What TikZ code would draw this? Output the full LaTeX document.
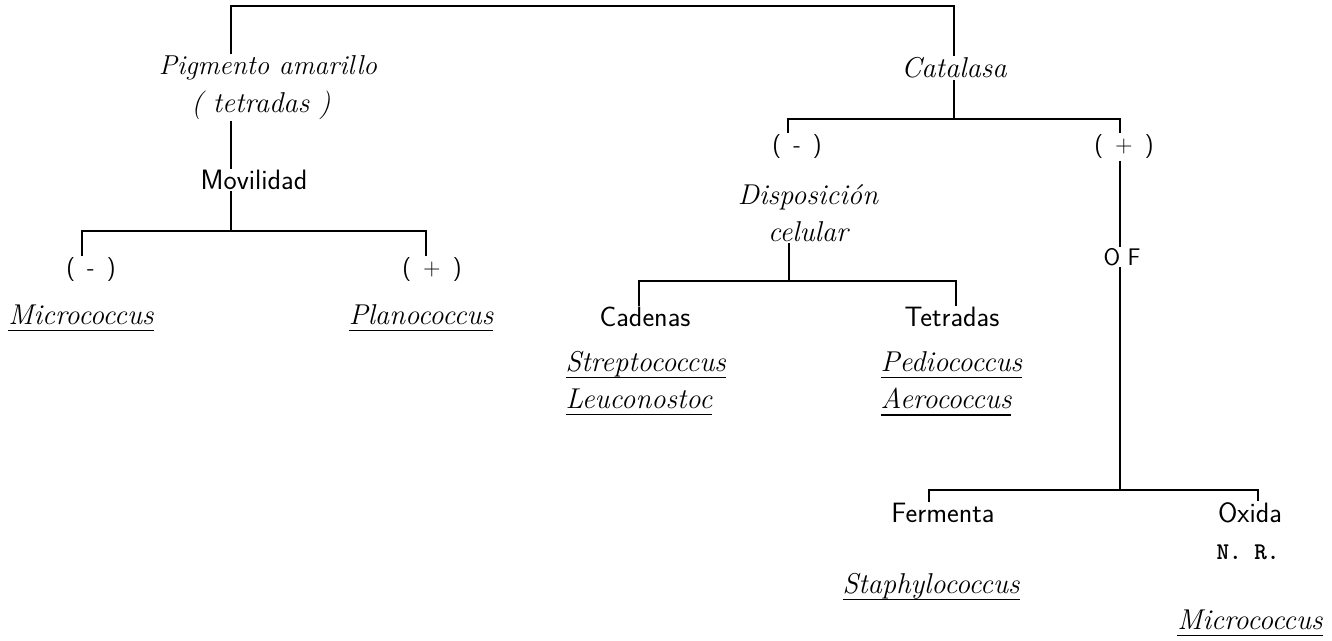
\documentclass[tikz,border=0pt]{standalone}
\newcommand\uln[1]{\setbox0\hbox{#1}\leavevmode\rlap{\rule[-5pt]{\wd0}{1.1pt}}\box0}
\begin{document}
\begin{tikzpicture}[x=0.75pt,y=-0.75pt,
  conn/.style={line width=1.4pt},
  itl/.style={inner sep=1pt, font=\fontsize{21.5}{27}\selectfont\itshape},
  upl/.style={inner sep=1pt, font=\fontsize{21}{24}\selectfont\sffamily},
  sgn/.style={inner sep=1pt, font=\fontsize{18}{24}\selectfont\sffamily}]
\useasboundingbox (0,0) rectangle (1332,640);
% left branch
\node[itl, font=\fontsize{20.5}{27}\selectfont\itshape] (pig) at (268,68) {Pigmento amarillo};
\node[itl] (tet) at (261,105) {( tetradas )};
\node[upl] (mov) at (254,180) {Movilidad};
\node[sgn] (mneg) at (91,270) {(\enspace-\enspace)};
\node[sgn] (mpos) at (432,270) {(\enspace+\enspace)};
\node[itl] (micA) at (81,318) {\uln{Micrococcus}};
\node[itl] (plan) at (421,318) {\uln{Planococcus}};
% right branch
\node[itl] (cat) at (954,68) {Catalasa};
\node[sgn] (cneg) at (797,147) {(\enspace-\enspace)};
\node[sgn] (cpos) at (1124,147) {(\enspace+\enspace)};
\node[itl, align=center, font=\fontsize{21.5}{28}\selectfont\itshape] (dis) at (808,213) {Disposición\\celular};
\node[sgn] (of) at (1122,257) {O F};
\node[upl] (cad) at (645,317) {Cadenas};
\node[upl] (tetr) at (952,317) {Tetradas};
\node[itl, anchor=west] (strep) at (564,365) {\uln{Streptococcus}};
\node[itl, anchor=west] (leuc) at (564,402) {\uln{Leuconostoc}};
\node[itl, anchor=west] (pedi) at (879,365) {\uln{Pediococcus}};
\node[itl, anchor=west] (aero) at (879,402) {\uln{Aerococcus}};
\node[upl] (fer) at (943,513) {Fermenta};
\node[upl] (oxi) at (1250,513) {Oxida};
\node[sgn, font=\fontsize{18}{24}\selectfont\ttfamily\bfseries] (nr) at (1248,552) {N. R.};
\node[itl] (staph) at (931,587) {\uln{Staphylococcus}};
\node[itl] (micB) at (1250,623) {\uln{Micrococcus}};
% connectors
\coordinate (tl) at (231,6); \coordinate (tr) at (954,6);
\draw[conn] (pig.north -| tl) -- (tl) -- (tr) -- (cat.north);
\draw[conn] (tet.south -| tl) -- (mov.north -| tl);
\coordinate (mc) at (231,231); \coordinate (ml) at (82,231); \coordinate (mr) at (426,231);
\draw[conn] (mov.south -| mc) -- (mc);
\draw[conn] (mneg.north -| ml) -- (ml) -- (mr) -- (mpos.north -| mr);
\coordinate (cc) at (954,119); \coordinate (cl) at (788,119); \coordinate (cr) at (1120,119);
\draw[conn] (cat.south) -- (cc);
\draw[conn] (cneg.north -| cl) -- (cl) -- (cr) -- (cpos.north -| cr);
\draw[conn] (cpos.south -| cr) -- (of.north -| cr);
\coordinate (oc) at (1120,490); \coordinate (ol) at (929,490); \coordinate (or) at (1258,490);
\draw[conn] (of.south -| oc) -- (oc);
\draw[conn] (fer.north -| ol) -- (ol) -- (or) -- (oxi.north -| or);
\coordinate (dc) at (789,281); \coordinate (dl) at (639,281); \coordinate (dr) at (956,281);
\draw[conn] (dis.south -| dc) -- (dc);
\draw[conn] (cad.north -| dl) -- (dl) -- (dr) -- (tetr.north -| dr);
\end{tikzpicture}
\end{document}
